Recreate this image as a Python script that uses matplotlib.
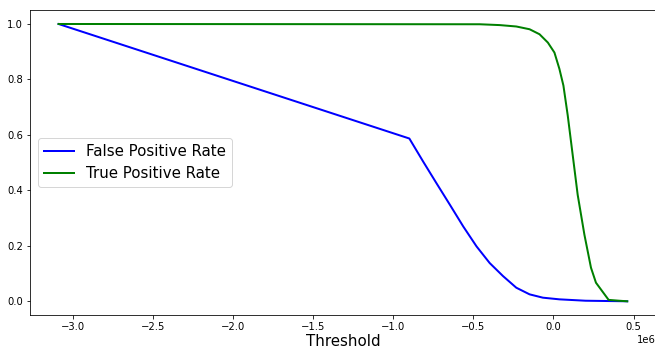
import numpy as np
import matplotlib
matplotlib.use("Agg")
import matplotlib.pyplot as plt

# Threshold values (x, in units of 1e6) and rates
fpr_thresh = [-3.087, -0.899, -0.812, -0.729, -0.646, -0.563, -0.480, -0.398, -0.315,
              -0.232, -0.149, -0.066, 0.037, 0.2, 0.46]
fpr_vals = [1.0, 0.587, 0.503, 0.425, 0.348, 0.270, 0.198, 0.138, 0.091,
            0.049, 0.025, 0.013, 0.007, 0.002, 0.0]

tpr_thresh = [-3.087, -0.46, -0.335, -0.232, -0.149, -0.087, -0.035, 0.006, 0.037, 0.062,
              0.089, 0.120, 0.151, 0.193, 0.234, 0.265, 0.344, 0.41, 0.46]
tpr_vals = [1.0, 0.999, 0.996, 0.991, 0.981, 0.963, 0.933, 0.897, 0.838, 0.778,
            0.670, 0.527, 0.384, 0.240, 0.121, 0.067, 0.005, 0.002, 0.0]

fpr_thresh = np.array(fpr_thresh) * 1e6
tpr_thresh = np.array(tpr_thresh) * 1e6

dpi = 72
fig = plt.figure(figsize=(655 / dpi, 349 / dpi), dpi=dpi)
ax = fig.add_axes([0.046, 0.097, 0.955, 0.874])

ax.plot(fpr_thresh, fpr_vals, color="blue", linewidth=2, label="False Positive Rate")
ax.plot(tpr_thresh, tpr_vals, color="green", linewidth=2, label="True Positive Rate")

ax.set_xlabel("Threshold", fontsize=15, labelpad=2)
ax.legend(loc="center left", fontsize=15)

fig.savefig("out.png", dpi=dpi)
